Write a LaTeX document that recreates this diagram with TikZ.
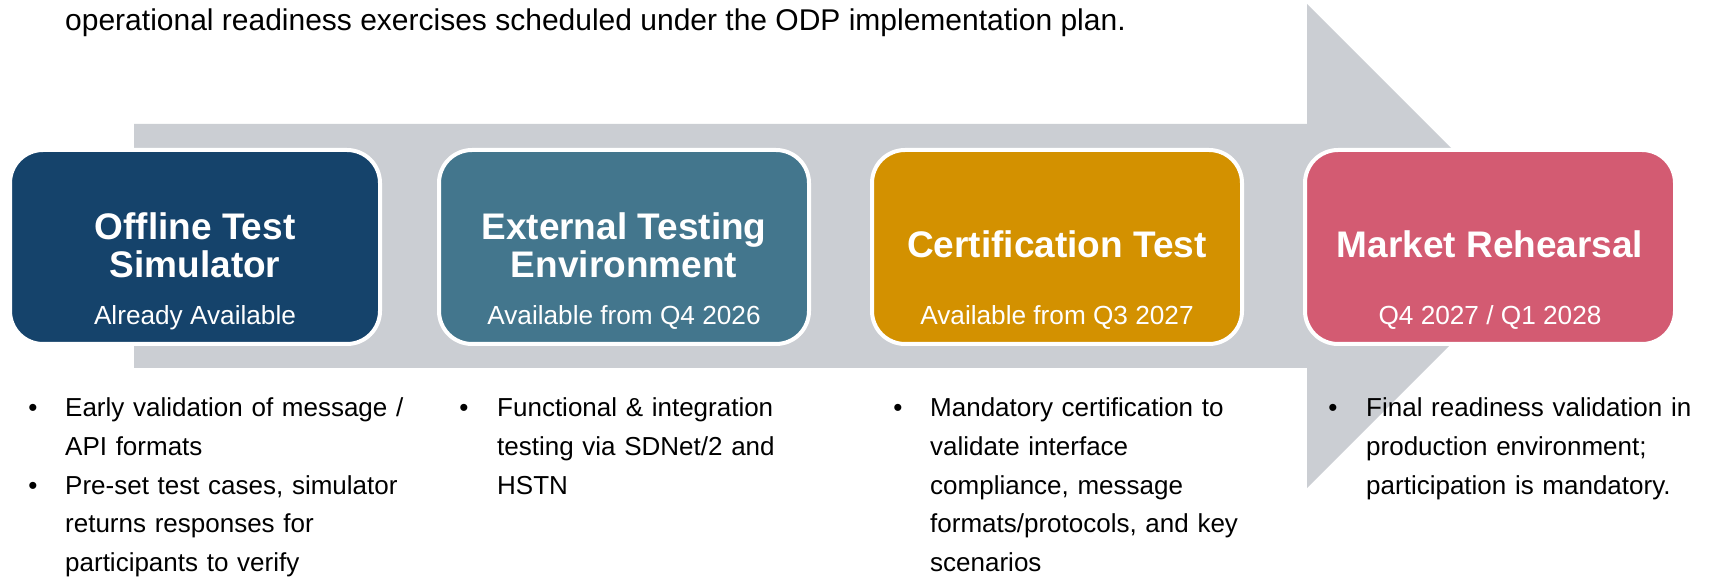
\documentclass[tikz,border=0pt]{standalone}
\usepackage{fontspec}
\setmainfont{Liberation Sans}
\definecolor{arrowgray}{RGB}{203,206,211}
\definecolor{navy}{RGB}{21,67,107}
\definecolor{steel}{RGB}{67,118,141}
\definecolor{amber}{RGB}{211,145,0}
\definecolor{rose}{RGB}{211,91,114}
\tikzset{
  stagebox/.style={draw=white, line width=4pt, rounded corners=33pt},
  titletext/.style={text=white, font=\fontsize{37}{38.5}\selectfont\bfseries, align=center, anchor=base, inner sep=0pt},
  subtext/.style={text=white, font=\fontsize{26.2}{30}\selectfont, anchor=base, inner sep=0pt},
  bullettext/.style={text=black, font=\fontsize{26}{38.6}\selectfont, align=left, anchor=base west, inner sep=0pt, text width=420pt},
  bulletdot/.style={text=black, font=\fontsize{26}{38.6}\selectfont, anchor=base, inner sep=0pt},
  headtext/.style={text=black, font=\fontsize{30}{34}\selectfont, anchor=base west, inner sep=0pt}
}
\begin{document}
\begin{tikzpicture}[x=1pt,y=-1pt]
\useasboundingbox (0,0) rectangle (1709,577);
% big arrow
\fill[arrowgray] (134,124) -- (1307,124) -- (1307,4) -- (1549,246) -- (1307,488) -- (1307,368) -- (134,368) -- cycle;
% header
\node[headtext] (head) at (65,31) {operational readiness exercises scheduled under the ODP implementation plan.};
% boxes
\foreach \name/\lx/\col in {b1/12/navy, b2/441/steel, b3/874/amber, b4/1307/rose}{
  \path[stagebox, fill=\col] (\lx-2,150) rectangle ++(370,194);
  \coordinate (\name) at (\lx+183,0);
}
\node[titletext] (t1) at (b1 |- 0,278) {Offline Test\\Simulator};
\node[subtext] (s1) at (b1 |- 0,325) {Already Available};
\node[titletext] (t2) at (b2 |- 0,278) {External Testing\\Environment};
\node[subtext] (s2) at (b2 |- 0,325) {Available from Q4 2026};
\node[titletext] (t3) at (b3 |- 0,258) {Certification Test};
\node[subtext] (s3) at (b3 |- 0,325) {Available from Q3 2027};
\node[titletext] (t4) at (b4 |- 0,258) {Market Rehearsal};
\node[subtext] (s4) at (b4 |- 0,325) {Q4 2027 / Q1 2028};
% bullets
\node[bulletdot] (d1a) at (33,417) {•};
\node[bullettext] (l1a) at (65,417) {Early validation of message /\\API formats};
\node[bulletdot] (d1b) at (33,494) {•};
\node[bullettext] (l1b) at (65,494) {Pre-set test cases, simulator\\returns responses for\\participants to verify};
\node[bulletdot] (d2) at (464,417) {•};
\node[bullettext] (l2) at (497,417) {Functional \& integration\\testing via SDNet/2 and\\HSTN};
\node[bulletdot] (d3) at (898,417) {•};
\node[bullettext] (l3) at (930,417) {Mandatory certification to\\validate interface\\compliance, message\\formats/protocols, and key\\scenarios};
\node[bulletdot] (d4) at (1333,417) {•};
\node[bullettext] (l4) at (1366,417) {Final readiness validation in\\production environment;\\participation is mandatory.};
\end{tikzpicture}
\end{document}
